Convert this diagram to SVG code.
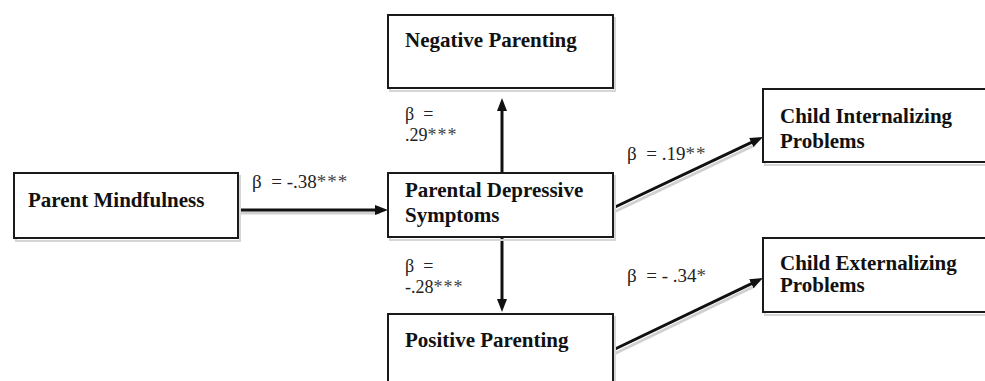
<svg xmlns="http://www.w3.org/2000/svg" width="985" height="381" viewBox="0 0 985 381">
<style>
.box{fill:#fff;stroke:#1a1a1a;stroke-width:2}
.shadow{fill:none;stroke:#d6d6d6;stroke-width:2}
.t{font-family:"Liberation Serif","Times New Roman",serif;font-weight:bold;font-size:21px;fill:#111}
.lbl{font-family:"Liberation Serif","Times New Roman",serif;font-size:19px;fill:#222;white-space:pre}
.lbl2{font-size:18px}
.st{letter-spacing:1px;fill:#444}
.edge{stroke:#111;stroke-width:3;fill:none;marker-end:url(#arr)}
.eshadow{stroke:#d0d0d0;stroke-width:3;fill:none}
</style>
<defs>
<marker id="arr" markerUnits="userSpaceOnUse" markerWidth="14" markerHeight="12" refX="2" refY="5" orient="auto">
<path d="M0,0 L13,5 L0,10 z" fill="#111"/>
</marker>
</defs>
<rect width="985" height="381" fill="#fff"/>
<g id="edges">
<line class="eshadow" x1="238" y1="213" x2="380" y2="213"/>
<line class="eshadow" x1="614" y1="212" x2="755" y2="145"/>
<line class="eshadow" x1="614" y1="354" x2="755" y2="286"/>
<line class="edge" x1="238" y1="210" x2="377" y2="210"/>
<line class="edge" x1="502" y1="173" x2="502" y2="109"/>
<line class="edge" x1="502" y1="237" x2="502" y2="301"/>
<line class="edge" x1="613" y1="208" x2="753.1" y2="141.7"/>
<line class="edge" x1="613" y1="350" x2="753.1" y2="282.8"/>
<text class="lbl" x="252" y="188" xml:space="preserve">β  = -.38<tspan class="st">***</tspan></text>
<text class="lbl lbl2" x="405" y="120" xml:space="preserve">β  =</text>
<text class="lbl lbl2" x="405" y="141" xml:space="preserve">.29<tspan class="st">***</tspan></text>
<text class="lbl lbl2" x="405" y="272" xml:space="preserve">β  =</text>
<text class="lbl lbl2" x="405" y="293" xml:space="preserve">-.28<tspan class="st">***</tspan></text>
<text class="lbl" x="627" y="160" xml:space="preserve">β  = .19<tspan class="st">**</tspan></text>
<text class="lbl" x="627" y="282" xml:space="preserve">β  = - .34<tspan class="st">*</tspan></text>
</g>
<g id="parent-mindfulness">
<rect class="shadow" x="16" y="176" width="224" height="65"/>
<rect class="box" x="14" y="173" width="224" height="65"/>
<text class="t" x="28" y="207">Parent Mindfulness</text>
</g>
<g id="negative-parenting">
<rect class="shadow" x="390" y="18" width="225" height="73"/>
<rect class="box" x="388" y="15" width="225" height="73"/>
<text class="t" x="405" y="47">Negative Parenting</text>
</g>
<g id="parental-depressive-symptoms">
<rect class="shadow" x="390" y="176" width="225" height="64"/>
<rect class="box" x="388" y="173" width="225" height="64"/>
<text class="t" x="405" y="197">Parental Depressive</text>
<text class="t" x="405" y="222">Symptoms</text>
</g>
<g id="positive-parenting">
<rect class="shadow" x="390" y="317" width="225" height="80"/>
<rect class="box" x="388" y="314" width="225" height="80"/>
<text class="t" x="405" y="347">Positive Parenting</text>
</g>
<g id="child-internalizing">
<rect class="shadow" x="765" y="92" width="240" height="73"/>
<rect class="box" x="763" y="89" width="240" height="73"/>
<text class="t" x="780" y="123">Child Internalizing</text>
<text class="t" x="780" y="148">Problems</text>
</g>
<g id="child-externalizing">
<rect class="shadow" x="765" y="241" width="240" height="74"/>
<rect class="box" x="763" y="238" width="240" height="74"/>
<text class="t" x="780" y="270">Child Externalizing</text>
<text class="t" x="780" y="292">Problems</text>
</g>
</svg>
